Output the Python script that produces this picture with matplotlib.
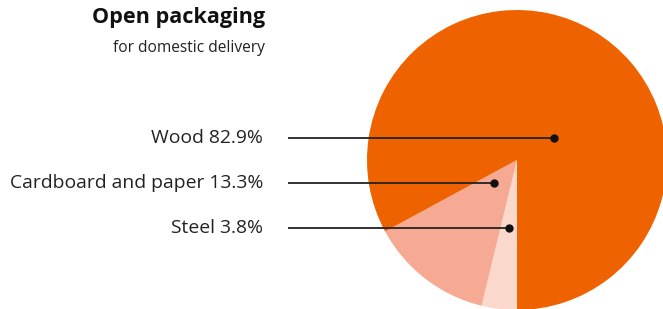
import numpy as np
import matplotlib.pyplot as plt

plt.rcParams['font.family'] = ['Open Sans', 'DejaVu Sans']

# data
labels = ['Steel', 'Cardboard and paper', 'Wood']
shares = [3.8, 13.3, 82.9]
colors = ['#fbd8cc', '#f6aa94', '#ee6200']

W, H = 663, 309
fig = plt.figure(figsize=(W / 100, H / 100), dpi=100)
ax = fig.add_axes([0, 0, 1, 1])

cx, cy, r = 517, H - 160, 150
ax.pie(shares, colors=colors, startangle=-90, counterclock=False,
       center=(cx, cy), radius=r, wedgeprops=dict(linewidth=0))
ax.set_xlim(0, W)
ax.set_ylim(0, H)
ax.set_aspect('equal')
ax.axis('off')

# label rows (pixel y from top) and anchor x of the dots inside the pie
rows = {'Wood': (138, 554), 'Cardboard and paper': (183, 494), 'Steel': (228, 509)}
for lab, val in zip(labels, shares):
    y, xd = rows[lab]
    y = H - y
    ax.text(263, y, f'{lab} {val}%', ha='right', va='center', fontsize=13.9, color='#222222')
    ax.plot([288, xd], [y, y], color='#222222', lw=1.3, solid_capstyle='butt')
    ax.plot(xd, y, 'o', color='#111111', ms=5)

ax.text(265, H - 18, 'Open packaging', ha='right', va='center',
        fontsize=15.6, fontweight='bold', color='#111111')
ax.text(265, H - 48, 'for domestic delivery', ha='right', va='center',
        fontsize=11.2, color='#222222')

fig.savefig('out.png', dpi=100)
